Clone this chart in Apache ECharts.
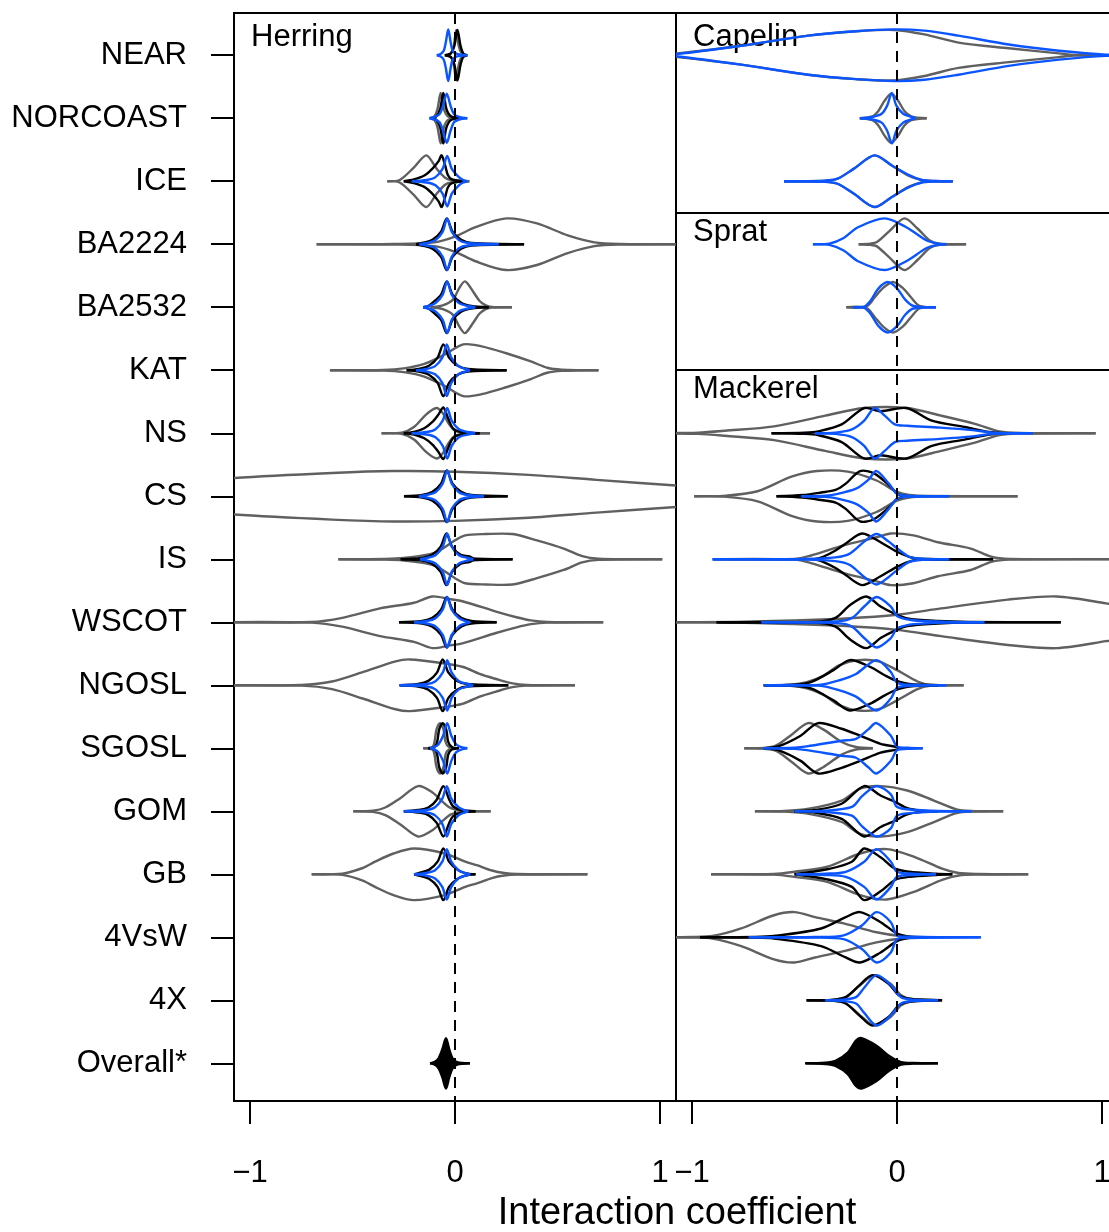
<!DOCTYPE html>
<html>
<head>
<meta charset="utf-8">
<script src="https://cdn.jsdelivr.net/npm/echarts@6.0.0/dist/echarts.min.js"></script>
<style>
  html, body { margin: 0; padding: 0; background: #fff; }
  #chart { width: 1109px; height: 1232px; }
</style>
</head>
<body>
<div id="chart"></div>
<script>
// rows from top to bottom
const rows = ['NEAR', 'NORCOAST', 'ICE', 'BA2224', 'BA2532', 'KAT', 'NS', 'CS', 'IS',
  'WSCOT', 'NGOSL', 'SGOSL', 'GOM', 'GB', '4VsW', '4X', 'Overall*'];
const xTicks = [-1, 0, 1];

// each violin: [row, [[x, half width in rows], ...]]
const herringGrey = [
  ['NEAR', [[-0.04, 0], [-0.02, 0.03], [-0.006, 0.15], [0.006, 0.40], [0.018, 0.15], [0.032, 0.03], [0.05, 0]]],
  ['NORCOAST', [[-0.12, 0], [-0.1, 0.03], [-0.085, 0.15], [-0.07, 0.40], [-0.055, 0.15], [-0.035, 0.03], [0.0, 0]]],
  ['ICE', [[-0.33, 0], [-0.27, 0.02], [-0.2, 0.22], [-0.14, 0.41], [-0.09, 0.2], [-0.05, 0.06], [-0.02, 0.02], [0.07, 0]]],
  ['BA2224', [[-0.675, 0], [-0.3, 0.005], [-0.1, 0.03], [0.0, 0.12], [0.1, 0.27], [0.25, 0.41], [0.4, 0.33], [0.55, 0.14], [0.68, 0.03], [0.8, 0.005], [1.2, 0]]],
  ['BA2532', [[-0.12, 0], [-0.06, 0.03], [-0.01, 0.12], [0.02, 0.3], [0.049, 0.41], [0.088, 0.25], [0.12, 0.1], [0.15, 0.03], [0.18, 0.005], [0.278, 0]]],
  ['KAT', [[-0.61, 0], [-0.35, 0.005], [-0.25, 0.03], [-0.15, 0.1], [-0.05, 0.25], [0.04, 0.41], [0.13, 0.38], [0.25, 0.27], [0.37, 0.14], [0.45, 0.04], [0.52, 0.01], [0.70, 0]]],
  ['NS', [[-0.358, 0], [-0.26, 0.01], [-0.2, 0.1], [-0.14, 0.3], [-0.09, 0.40], [-0.06, 0.32], [-0.03, 0.15], [0.0, 0.04], [0.05, 0.01], [0.171, 0]]],
  ['CS', [[-1.6, 0.15], [-1.08, 0.29], [-0.6, 0.37], [-0.3, 0.40], [0.0, 0.39], [0.36, 0.34], [0.69, 0.26], [1.08, 0.17], [1.5, 0.08]]],
  ['IS', [[-0.569, 0], [-0.35, 0.005], [-0.25, 0.02], [-0.1, 0.1], [0.0, 0.3], [0.05, 0.38], [0.15, 0.40], [0.28, 0.40], [0.4, 0.3], [0.53, 0.17], [0.62, 0.05], [0.7, 0.01], [1.011, 0]]],
  ['WSCOT', [[-1.2, 0], [-0.7, 0.005], [-0.55, 0.07], [-0.366, 0.22], [-0.2, 0.31], [-0.11, 0.41], [-0.03, 0.37], [0.04, 0.33], [0.2, 0.17], [0.3, 0.08], [0.37, 0.03], [0.45, 0.005], [0.723, 0]]],
  ['NGOSL', [[-1.2, 0], [-0.75, 0.005], [-0.6, 0.06], [-0.45, 0.21], [-0.29, 0.38], [-0.22, 0.41], [-0.06, 0.35], [0.04, 0.29], [0.12, 0.18], [0.2, 0.1], [0.28, 0.03], [0.35, 0.005], [0.585, 0]]],
  ['SGOSL', [[-0.155, 0], [-0.11, 0.02], [-0.1, 0.1], [-0.09, 0.3], [-0.073, 0.40], [-0.056, 0.3], [-0.046, 0.1], [-0.03, 0.02], [0.005, 0]]],
  ['GOM', [[-0.496, 0], [-0.4, 0.01], [-0.34, 0.06], [-0.27, 0.2], [-0.18, 0.40], [-0.11, 0.3], [-0.06, 0.15], [-0.02, 0.05], [0.03, 0.01], [0.174, 0]]],
  ['GB', [[-0.699, 0], [-0.55, 0.01], [-0.45, 0.1], [-0.39, 0.2], [-0.3, 0.33], [-0.2, 0.41], [-0.05, 0.33], [0.05, 0.2], [0.11, 0.14], [0.18, 0.06], [0.24, 0.02], [0.3, 0.005], [0.646, 0]]]
];
const herringBlack = [
  ['NEAR', [[-0.05, 0], [-0.02, 0.03], [-0.003, 0.15], [0.012, 0.40], [0.027, 0.15], [0.04, 0.03], [0.06, 0]]],
  ['NORCOAST', [[-0.11, 0], [-0.09, 0.03], [-0.072, 0.15], [-0.057, 0.40], [-0.042, 0.15], [-0.02, 0.03], [0.02, 0]]],
  ['ICE', [[-0.25, 0], [-0.2, 0.03], [-0.15, 0.09], [-0.11, 0.2], [-0.08, 0.32], [-0.065, 0.41], [-0.048, 0.25], [-0.035, 0.1], [-0.015, 0.03], [0.05, 0]]],
  ['BA2224', [[-0.19, 0], [-0.16, 0.02], [-0.11, 0.07], [-0.068, 0.2], [-0.04, 0.41], [-0.012, 0.2], [0.03, 0.07], [0.08, 0.02], [0.337, 0]]],
  ['BA2532', [[-0.155, 0], [-0.13, 0.02], [-0.11, 0.07], [-0.068, 0.2], [-0.04, 0.41], [-0.012, 0.2], [0.03, 0.07], [0.08, 0.02], [0.164, 0]]],
  ['KAT', [[-0.236, 0], [-0.177, 0.02], [-0.127, 0.07], [-0.085, 0.2], [-0.057, 0.41], [-0.029, 0.2], [0.013, 0.07], [0.063, 0.02], [0.252, 0]]],
  ['NS', [[-0.25, 0], [-0.2, 0.02], [-0.15, 0.08], [-0.11, 0.18], [-0.08, 0.3], [-0.057, 0.41], [-0.035, 0.25], [-0.01, 0.08], [0.03, 0.02], [0.12, 0]]],
  ['CS', [[-0.249, 0], [-0.16, 0.02], [-0.11, 0.07], [-0.068, 0.2], [-0.04, 0.41], [-0.012, 0.2], [0.03, 0.07], [0.08, 0.02], [0.257, 0]]],
  ['IS', [[-0.265, 0], [-0.162, 0.02], [-0.112, 0.07], [-0.07, 0.2], [-0.042, 0.41], [-0.014, 0.2], [0.028, 0.07], [0.07, 0.045], [0.09, 0.015], [0.281, 0]]],
  ['WSCOT', [[-0.273, 0], [-0.16, 0.02], [-0.11, 0.07], [-0.068, 0.2], [-0.04, 0.40], [-0.012, 0.2], [0.03, 0.07], [0.08, 0.02], [0.203, 0]]],
  ['NGOSL', [[-0.27, 0], [-0.18, 0.02], [-0.13, 0.07], [-0.088, 0.2], [-0.06, 0.41], [-0.032, 0.2], [0.01, 0.07], [0.06, 0.02], [0.26, 0]]],
  ['SGOSL', [[-0.13, 0], [-0.1, 0.02], [-0.087, 0.1], [-0.077, 0.3], [-0.06, 0.40], [-0.043, 0.3], [-0.033, 0.1], [-0.015, 0.02], [0.02, 0]]],
  ['GOM', [[-0.25, 0], [-0.18, 0.02], [-0.13, 0.06], [-0.09, 0.18], [-0.057, 0.40], [-0.03, 0.2], [-0.01, 0.08], [0.03, 0.02], [0.1, 0]]],
  ['GB', [[-0.2, 0], [-0.177, 0.02], [-0.127, 0.07], [-0.085, 0.2], [-0.057, 0.41], [-0.029, 0.2], [0.013, 0.07], [0.05, 0.02], [0.1, 0]]]
];
const herringBlue = [
  ['NEAR', [[-0.089, 0], [-0.07, 0.02], [-0.055, 0.07], [-0.045, 0.2], [-0.033, 0.41], [-0.021, 0.2], [-0.011, 0.07], [0.01, 0.02], [0.06, 0]]],
  ['NORCOAST', [[-0.125, 0], [-0.1, 0.02], [-0.075, 0.065], [-0.058, 0.2], [-0.04, 0.39], [-0.022, 0.2], [-0.005, 0.065], [0.02, 0.02], [0.06, 0]]],
  ['ICE', [[-0.21, 0], [-0.138, 0.02], [-0.095, 0.065], [-0.06, 0.2], [-0.038, 0.40], [-0.016, 0.2], [0.019, 0.065], [0.04, 0.02], [0.06, 0]]],
  ['BA2224', [[-0.174, 0], [-0.138, 0.02], [-0.095, 0.065], [-0.06, 0.2], [-0.038, 0.41], [-0.016, 0.2], [0.019, 0.065], [0.062, 0.02], [0.213, 0]]],
  ['BA2532', [[-0.155, 0], [-0.13, 0.02], [-0.095, 0.065], [-0.06, 0.2], [-0.038, 0.41], [-0.016, 0.2], [0.019, 0.065], [0.062, 0.02], [0.099, 0]]],
  ['KAT', [[-0.19, 0], [-0.138, 0.02], [-0.097, 0.065], [-0.062, 0.2], [-0.04, 0.41], [-0.018, 0.2], [0.017, 0.065], [0.05, 0.02], [0.073, 0]]],
  ['NS', [[-0.211, 0], [-0.138, 0.02], [-0.095, 0.065], [-0.06, 0.2], [-0.038, 0.40], [-0.016, 0.2], [0.019, 0.065], [0.062, 0.02], [0.098, 0]]],
  ['CS', [[-0.176, 0], [-0.138, 0.02], [-0.095, 0.065], [-0.06, 0.2], [-0.038, 0.41], [-0.016, 0.2], [0.019, 0.065], [0.062, 0.02], [0.141, 0]]],
  ['IS', [[-0.171, 0], [-0.138, 0.02], [-0.095, 0.065], [-0.06, 0.2], [-0.038, 0.41], [-0.016, 0.2], [0.019, 0.065], [0.062, 0.02], [0.089, 0]]],
  ['WSCOT', [[-0.2, 0], [-0.138, 0.02], [-0.095, 0.065], [-0.06, 0.2], [-0.038, 0.40], [-0.016, 0.2], [0.019, 0.065], [0.05, 0.02], [0.073, 0]]],
  ['NGOSL', [[-0.27, 0], [-0.138, 0.02], [-0.095, 0.065], [-0.06, 0.2], [-0.038, 0.40], [-0.016, 0.2], [0.019, 0.065], [0.062, 0.02], [0.089, 0]]],
  ['SGOSL', [[-0.122, 0], [-0.1, 0.02], [-0.08, 0.065], [-0.058, 0.2], [-0.038, 0.40], [-0.018, 0.2], [0.005, 0.065], [0.03, 0.02], [0.06, 0]]],
  ['GOM', [[-0.249, 0], [-0.14, 0.02], [-0.097, 0.065], [-0.062, 0.2], [-0.04, 0.40], [-0.018, 0.2], [0.017, 0.065], [0.045, 0.02], [0.065, 0]]],
  ['GB', [[-0.2, 0], [-0.14, 0.02], [-0.097, 0.065], [-0.062, 0.2], [-0.04, 0.40], [-0.018, 0.2], [0.017, 0.065], [0.05, 0.02], [0.075, 0]]]
];
const herringOverall = [
  ['Overall*', [[-0.122, 0], [-0.1, 0.02], [-0.08, 0.08], [-0.062, 0.22], [-0.044, 0.40], [-0.028, 0.22], [-0.012, 0.08], [0.01, 0.02], [0.073, 0]]]
];

const capelinGrey = [
  ['NEAR', [[-1.2, 0], [-1.07, 0.03], [-0.76, 0.15], [-0.434, 0.31], [-0.2, 0.38], [-0.012, 0.40], [0.134, 0.33], [0.3, 0.2], [0.545, 0.11], [0.79, 0.03], [0.87, 0.005], [1.3, 0]]],
  ['NORCOAST', [[-0.182, 0], [-0.12, 0.03], [-0.09, 0.12], [-0.06, 0.28], [-0.028, 0.39], [0.005, 0.28], [0.035, 0.12], [0.07, 0.03], [0.145, 0]]],
  ['ICE', [[-0.551, 0], [-0.35, 0.01], [-0.29, 0.04], [-0.21, 0.2], [-0.11, 0.41], [-0.025, 0.25], [0.056, 0.09], [0.12, 0.02], [0.18, 0.005], [0.272, 0]]]
];
const capelinBlue = [
  ['NEAR', [[-1.2, 0], [-1.07, 0.02], [-0.76, 0.15], [-0.434, 0.31], [-0.2, 0.38], [-0.012, 0.41], [0.134, 0.39], [0.3, 0.31], [0.545, 0.17], [0.79, 0.07], [1.02, 0.01], [1.3, 0]]],
  ['NORCOAST', [[-0.18, 0], [-0.12, 0.02], [-0.075, 0.07], [-0.048, 0.2], [-0.025, 0.40], [-0.003, 0.2], [0.03, 0.07], [0.07, 0.02], [0.09, 0]]],
  ['ICE', [[-0.551, 0], [-0.35, 0.01], [-0.29, 0.04], [-0.21, 0.2], [-0.11, 0.41], [-0.025, 0.25], [0.056, 0.1], [0.12, 0.02], [0.18, 0.005], [0.272, 0]]]
];
const spratGrey = [
  ['BA2224', [[-0.187, 0], [-0.13, 0.01], [-0.1, 0.03], [-0.04, 0.2], [0.036, 0.41], [0.1, 0.25], [0.16, 0.06], [0.21, 0.01], [0.337, 0]]],
  ['BA2532', [[-0.247, 0], [-0.15, 0.01], [-0.11, 0.15], [-0.07, 0.3], [-0.02, 0.40], [0.03, 0.3], [0.07, 0.15], [0.11, 0.02], [0.19, 0]]]
];
const spratBlue = [
  ['BA2224', [[-0.41, 0], [-0.33, 0.01], [-0.26, 0.1], [-0.19, 0.27], [-0.06, 0.41], [0.045, 0.27], [0.145, 0.06], [0.2, 0.01], [0.24, 0]]],
  ['BA2532', [[-0.215, 0], [-0.16, 0.01], [-0.13, 0.1], [-0.09, 0.3], [-0.045, 0.40], [0.0, 0.3], [0.04, 0.12], [0.08, 0.02], [0.19, 0]]]
];

const mackerelGrey = [
  ['NS', [[-1.2, 0], [-0.97, 0.01], [-0.84, 0.04], [-0.6, 0.11], [-0.35, 0.28], [-0.16, 0.40], [0.047, 0.40], [0.215, 0.28], [0.38, 0.15], [0.5, 0.03], [0.6, 0.005], [0.969, 0]]],
  ['CS', [[-0.989, 0], [-0.85, 0.005], [-0.68, 0.08], [-0.515, 0.31], [-0.39, 0.40], [-0.24, 0.39], [-0.1, 0.25], [0.0, 0.07], [0.06, 0.02], [0.15, 0.005], [0.588, 0]]],
  ['IS', [[-0.896, 0], [-0.5, 0.005], [-0.42, 0.06], [-0.26, 0.22], [-0.1, 0.35], [-0.03, 0.41], [0.08, 0.38], [0.2, 0.27], [0.36, 0.17], [0.46, 0.04], [0.55, 0.005], [1.2, 0]]],
  ['WSCOT', [[-1.2, 0], [-0.8, 0.005], [-0.5, 0.03], [-0.25, 0.06], [0.0, 0.12], [0.215, 0.22], [0.54, 0.36], [0.78, 0.41], [1.02, 0.30], [1.2, 0.2], [1.4, 0.08], [1.6, 0]]],
  ['NGOSL', [[-0.65, 0], [-0.52, 0.01], [-0.44, 0.05], [-0.36, 0.15], [-0.28, 0.32], [-0.19, 0.40], [-0.09, 0.38], [0.0, 0.24], [0.1, 0.06], [0.16, 0.01], [0.325, 0]]],
  ['SGOSL', [[-0.745, 0], [-0.6, 0.03], [-0.52, 0.2], [-0.434, 0.40], [-0.36, 0.3], [-0.27, 0.1], [-0.2, 0.02], [-0.118, 0]]],
  ['GOM', [[-0.693, 0], [-0.55, 0.005], [-0.43, 0.04], [-0.27, 0.17], [-0.18, 0.36], [-0.08, 0.40], [0.05, 0.33], [0.18, 0.17], [0.29, 0.03], [0.36, 0.005], [0.518, 0]]],
  ['GB', [[-0.907, 0], [-0.6, 0.005], [-0.5, 0.04], [-0.34, 0.12], [-0.18, 0.33], [-0.05, 0.40], [0.09, 0.27], [0.22, 0.09], [0.3, 0.02], [0.4, 0.005], [0.64, 0]]],
  ['4VsW', [[-1.2, 0], [-1.0, 0.005], [-0.9, 0.02], [-0.76, 0.14], [-0.6, 0.35], [-0.5, 0.40], [-0.4, 0.32], [-0.26, 0.22], [-0.1, 0.08], [0.02, 0.02], [0.14, 0]]],
  ['4X', [[-0.442, 0], [-0.32, 0.005], [-0.25, 0.05], [-0.18, 0.24], [-0.11, 0.40], [-0.03, 0.26], [0.02, 0.08], [0.07, 0.02], [0.2, 0]]]
];
const mackerelBlack = [
  ['NS', [[-0.612, 0], [-0.45, 0.01], [-0.385, 0.03], [-0.27, 0.14], [-0.16, 0.40], [-0.08, 0.35], [0.047, 0.40], [0.17, 0.2], [0.33, 0.1], [0.45, 0.02], [0.53, 0]]],
  ['CS', [[-0.588, 0], [-0.46, 0.02], [-0.37, 0.06], [-0.3, 0.1], [-0.25, 0.2], [-0.18, 0.40], [-0.11, 0.36], [-0.03, 0.15], [0.0, 0.04], [0.05, 0]]],
  ['IS', [[-0.4, 0], [-0.36, 0.04], [-0.3, 0.14], [-0.25, 0.25], [-0.17, 0.41], [-0.08, 0.27], [0.0, 0.12], [0.08, 0.02], [0.15, 0.005], [0.469, 0]]],
  ['WSCOT', [[-0.88, 0], [-0.4, 0.005], [-0.3, 0.07], [-0.23, 0.27], [-0.15, 0.41], [-0.08, 0.25], [-0.015, 0.14], [0.05, 0.06], [0.2, 0.02], [0.35, 0.005], [0.799, 0]]],
  ['NGOSL', [[-0.65, 0], [-0.5, 0.01], [-0.42, 0.05], [-0.31, 0.24], [-0.23, 0.40], [-0.13, 0.29], [-0.06, 0.16], [-0.01, 0.08], [0.06, 0.02], [0.2, 0]]],
  ['SGOSL', [[-0.65, 0], [-0.58, 0.03], [-0.47, 0.2], [-0.385, 0.40], [-0.27, 0.31], [-0.18, 0.2], [-0.08, 0.07], [0.0, 0.02], [0.01, 0]]],
  ['GOM', [[-0.5, 0], [-0.4, 0.02], [-0.27, 0.12], [-0.16, 0.40], [-0.08, 0.25], [-0.01, 0.15], [0.05, 0.05], [0.12, 0.01], [0.2, 0]]],
  ['GB', [[-0.5, 0], [-0.34, 0.08], [-0.22, 0.2], [-0.16, 0.41], [-0.08, 0.27], [-0.01, 0.09], [0.06, 0.04], [0.19, 0.01], [0.27, 0]]],
  ['4VsW', [[-0.961, 0], [-0.7, 0.005], [-0.6, 0.02], [-0.37, 0.14], [-0.25, 0.32], [-0.18, 0.40], [-0.08, 0.24], [0.0, 0.06], [0.06, 0.01], [0.12, 0]]],
  ['4X', [[-0.44, 0], [-0.32, 0.005], [-0.25, 0.05], [-0.18, 0.25], [-0.12, 0.40], [-0.04, 0.26], [0.01, 0.08], [0.07, 0.02], [0.22, 0]]]
];
const mackerelBlue = [
  ['NS', [[-0.4, 0], [-0.3, 0.01], [-0.22, 0.06], [-0.16, 0.2], [-0.11, 0.40], [-0.06, 0.28], [-0.01, 0.14], [0.05, 0.12], [0.21, 0.09], [0.37, 0.05], [0.47, 0.01], [0.663, 0]]],
  ['CS', [[-0.466, 0], [-0.35, 0.01], [-0.3, 0.03], [-0.2, 0.12], [-0.14, 0.26], [-0.1, 0.40], [-0.04, 0.2], [0.0, 0.04], [0.05, 0.01], [0.255, 0]]],
  ['IS', [[-0.9, 0], [-0.45, 0.005], [-0.3, 0.03], [-0.23, 0.09], [-0.16, 0.28], [-0.1, 0.40], [-0.04, 0.28], [-0.01, 0.2], [0.06, 0.04], [0.12, 0.01], [0.255, 0]]],
  ['WSCOT', [[-0.661, 0], [-0.35, 0.005], [-0.25, 0.03], [-0.21, 0.09], [-0.16, 0.25], [-0.1, 0.40], [-0.03, 0.25], [0.0, 0.1], [0.06, 0.04], [0.13, 0.02], [0.25, 0.005], [0.426, 0]]],
  ['NGOSL', [[-0.648, 0], [-0.38, 0.005], [-0.28, 0.08], [-0.2, 0.18], [-0.1, 0.40], [-0.03, 0.21], [0.0, 0.04], [0.06, 0.01], [0.24, 0]]],
  ['SGOSL', [[-0.653, 0], [-0.5, 0.01], [-0.44, 0.03], [-0.27, 0.12], [-0.2, 0.15], [-0.14, 0.3], [-0.1, 0.40], [-0.03, 0.2], [0.0, 0.03], [0.05, 0.01], [0.126, 0]]],
  ['GOM', [[-0.499, 0], [-0.35, 0.01], [-0.22, 0.07], [-0.17, 0.24], [-0.1, 0.40], [-0.03, 0.27], [0.0, 0.07], [0.1, 0.02], [0.2, 0.005], [0.363, 0]]],
  ['GB', [[-0.49, 0], [-0.35, 0.01], [-0.25, 0.04], [-0.16, 0.2], [-0.1, 0.40], [-0.03, 0.2], [0.0, 0.04], [0.08, 0.01], [0.19, 0]]],
  ['4VsW', [[-0.723, 0], [-0.4, 0.005], [-0.26, 0.03], [-0.17, 0.19], [-0.1, 0.40], [-0.03, 0.24], [0.0, 0.03], [0.06, 0.01], [0.409, 0]]],
  ['4X', [[-0.35, 0], [-0.27, 0.01], [-0.2, 0.05], [-0.16, 0.2], [-0.1, 0.40], [-0.03, 0.24], [0.02, 0.05], [0.08, 0.01], [0.2, 0]]]
];
const mackerelOverall = [
  ['Overall*', [[-0.447, 0], [-0.35, 0.01], [-0.3, 0.04], [-0.24, 0.17], [-0.2, 0.36], [-0.174, 0.40], [-0.1, 0.28], [-0.04, 0.12], [0.02, 0.02], [0.08, 0.005], [0.2, 0]]]
];

const GREY = '#606060';
const BLUE = '#0a55ff';
const FONT = 'Liberation Sans, Arial, Helvetica, sans-serif';
const LINE_W = 2.4;

let chartDom = document.getElementById('chart');
let myChart = echarts.init(chartDom, null, {renderer: 'canvas'});

function violinSeries(list, gridIndex, color, filled, extra) {
  let s = {
    type: 'custom',
    xAxisIndex: gridIndex,
    yAxisIndex: gridIndex,
    clip: true,
    silent: true,
    animation: false,
    data: list.map(function (d) {
      return [d[1][0][0], rows.indexOf(d[0])];
    }),
    encode: {x: 0, y: 1},
    renderItem: function (params, api) {
      let item = list[params.dataIndex];
      let row = rows.indexOf(item[0]);
      let top = item[1].map(function (k) { return api.coord([k[0], row - k[1]]); });
      let bot = item[1].map(function (k) { return api.coord([k[0], row + k[1]]); });
      let style = {stroke: color, lineWidth: LINE_W, fill: null};
      let children = [];
      if (filled) {
        children.push({
          type: 'polygon',
          shape: {points: top.concat(bot.slice().reverse()), smooth: 0.3},
          style: {fill: color, stroke: color, lineWidth: 1}
        });
      }
      children.push({type: 'polyline', shape: {points: top, smooth: 0.3}, style: style});
      children.push({type: 'polyline', shape: {points: bot, smooth: 0.3}, style: style});
      return {type: 'group', children: children};
    }
  };
  return Object.assign(s, extra || {});
}

function xAxisTemplate(gridIndex) {
  return {
    type: 'value',
    gridIndex: gridIndex,
    position: 'bottom',
    min: -1.078,
    max: 1.078,
    axisLine: {show: false, onZero: false},
    splitLine: {show: false},
    axisTick: {show: true, customValues: xTicks, length: 23, lineStyle: {color: '#000', width: 2}},
    axisLabel: {
      customValues: xTicks,
      margin: 57,
      fontSize: 31,
      color: '#000',
      fontFamily: FONT,
      formatter: function (v) { return v < 0 ? '\u2212' + Math.abs(v) : String(v); }
    }
  };
}

function yAxisTemplate(gridIndex, show) {
  return {
    type: 'value',
    gridIndex: gridIndex,
    position: 'left',
    inverse: true,
    min: -0.67,
    max: 16.598,
    show: show,
    axisLine: {show: false, onZero: false},
    splitLine: {show: false},
    axisTick: {show: true, customValues: rows.map(function (r, i) { return i; }), length: 23, lineStyle: {color: '#000', width: 2}},
    axisLabel: {
      customValues: rows.map(function (r, i) { return i; }),
      margin: 47,
      fontSize: 31,
      color: '#000',
      fontFamily: FONT,
      formatter: function (v) { return rows[Math.round(v)]; }
    }
  };
}

let zeroLine = {
  silent: true,
  symbol: ['none', 'none'],
  label: {show: false},
  animation: false,
  lineStyle: {color: '#000', width: 2, type: [11, 8]},
  data: [{xAxis: 0}]
};
let rightLines = {
  silent: true,
  symbol: ['none', 'none'],
  label: {show: false},
  animation: false,
  data: [
    {xAxis: 0, lineStyle: {color: '#000', width: 2, type: [11, 8]}},
    {yAxis: 2.5, lineStyle: {color: '#000', width: 2, type: 'solid'}},
    {yAxis: 5, lineStyle: {color: '#000', width: 2, type: 'solid'}}
  ]
};

function panelTitle(text, x, y) {
  return {
    type: 'text',
    x: x,
    y: y,
    style: {text: text, fill: '#000', font: '31px ' + FONT, verticalAlign: 'middle', align: 'left'}
  };
}

let option = {
  animation: false,
  backgroundColor: '#fff',
  grid: [
    {left: 234, top: 13, width: 442, height: 1088, outerBoundsMode: 'none', show: true, borderColor: '#000', borderWidth: 2, backgroundColor: 'transparent'},
    {left: 676, top: 13, width: 442, height: 1088, outerBoundsMode: 'none', show: true, borderColor: '#000', borderWidth: 2, backgroundColor: 'transparent'}
  ],
  xAxis: [xAxisTemplate(0), xAxisTemplate(1)],
  yAxis: [yAxisTemplate(0, true), yAxisTemplate(1, false)],
  series: [
    violinSeries(herringGrey, 0, GREY, false, {markLine: zeroLine}),
    violinSeries(herringBlack, 0, '#000', false),
    violinSeries(herringBlue, 0, BLUE, false),
    violinSeries(herringOverall, 0, '#000', true),
    violinSeries(capelinGrey, 1, GREY, false, {markLine: rightLines}),
    violinSeries(capelinBlue, 1, BLUE, false),
    violinSeries(spratGrey, 1, GREY, false),
    violinSeries(spratBlue, 1, BLUE, false),
    violinSeries(mackerelGrey, 1, GREY, false),
    violinSeries(mackerelBlack, 1, '#000', false),
    violinSeries(mackerelBlue, 1, BLUE, false),
    violinSeries(mackerelOverall, 1, '#000', true)
  ],
  graphic: [
    panelTitle('Herring', 251, 37),
    panelTitle('Capelin', 693, 37),
    panelTitle('Sprat', 693, 232),
    panelTitle('Mackerel', 693, 389),
    {
      type: 'text',
      x: 677,
      y: 1214,
      style: {text: 'Interaction coefficient', fill: '#000', font: '38px ' + FONT, verticalAlign: 'middle', align: 'center'}
    }
  ]
};

option && myChart.setOption(option);
</script>
</body>
</html>
